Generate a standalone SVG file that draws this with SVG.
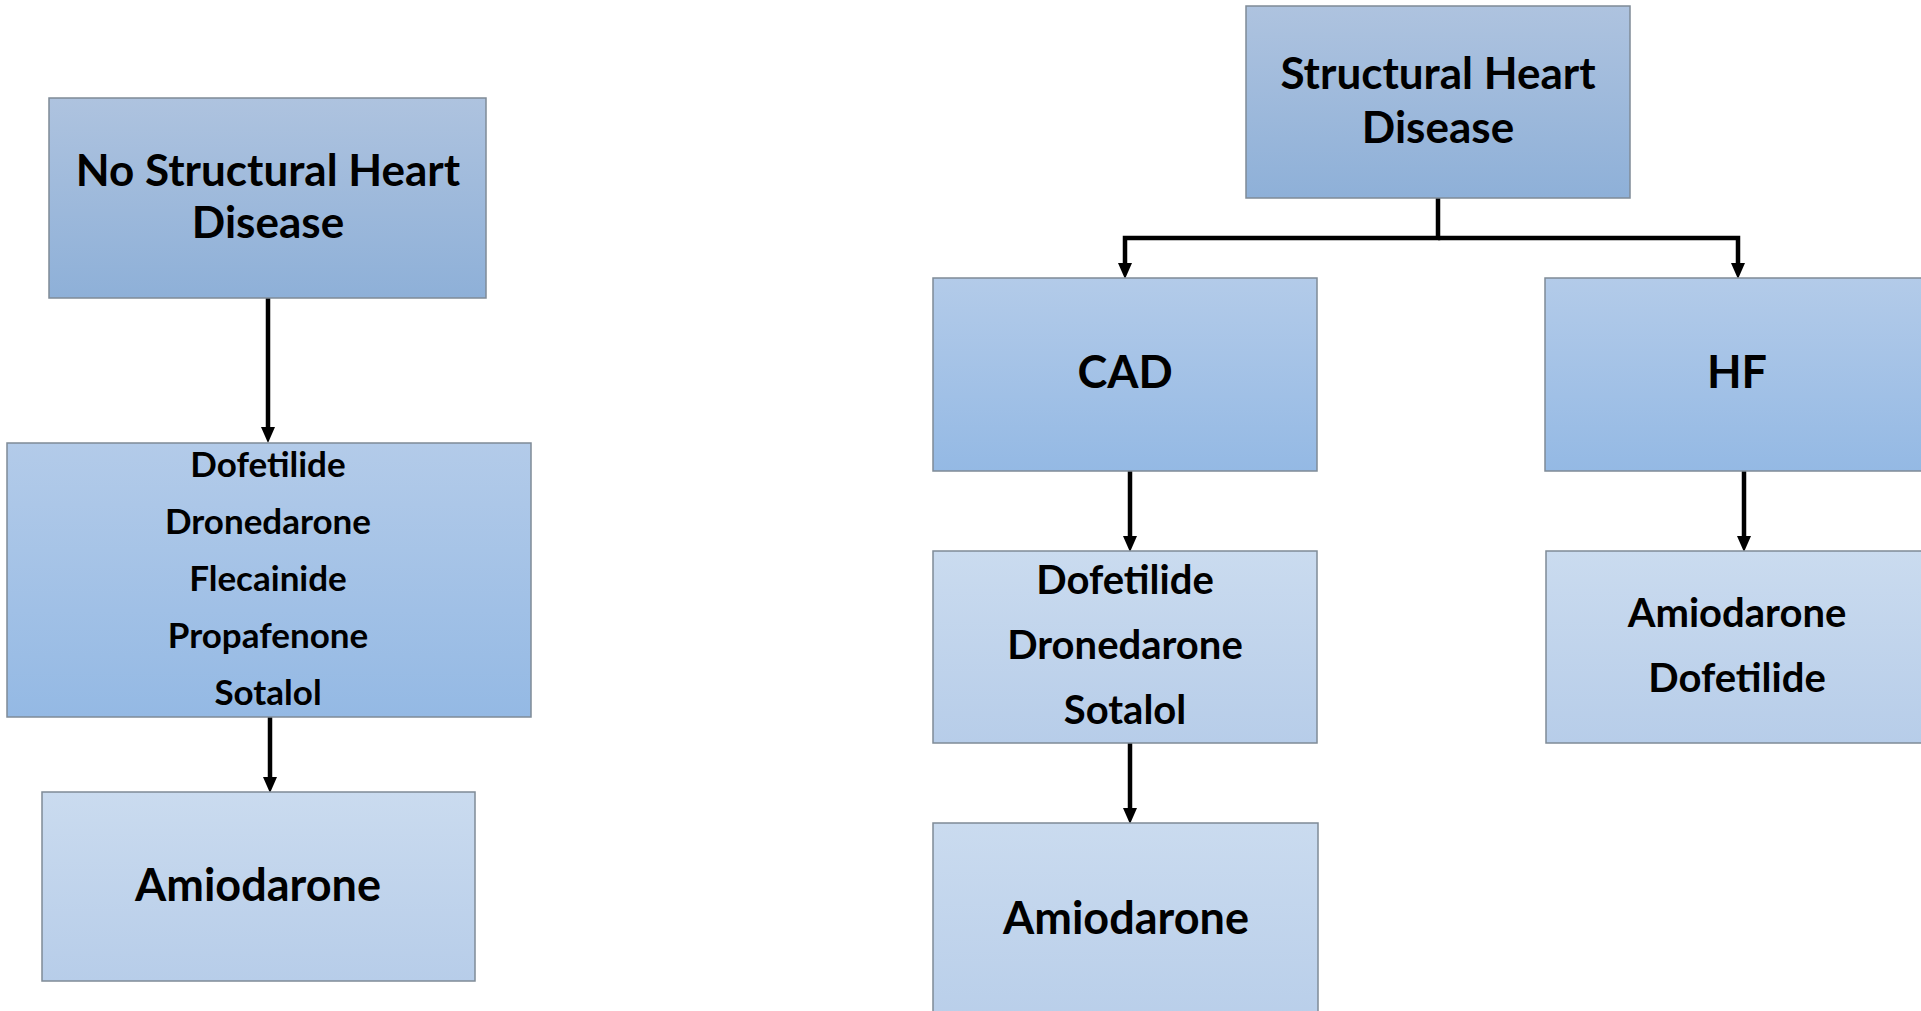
<svg xmlns="http://www.w3.org/2000/svg" width="1921" height="1011" viewBox="0 0 1921 1011">
<defs>
<linearGradient id="gDark" x1="0" y1="0" x2="0" y2="1"><stop offset="0" stop-color="#aec3df"/><stop offset="1" stop-color="#8eb0d8"/></linearGradient>
<linearGradient id="gMid" x1="0" y1="0" x2="0" y2="1"><stop offset="0" stop-color="#b3cbe9"/><stop offset="1" stop-color="#94b9e4"/></linearGradient>
<linearGradient id="gLight" x1="0" y1="0" x2="0" y2="1"><stop offset="0" stop-color="#cadbef"/><stop offset="1" stop-color="#b7cde9"/></linearGradient>
<style>
.box{stroke:#7f8b97;stroke-width:1.5}
.t{font-family:Lato,"Liberation Sans",sans-serif;font-weight:700;fill:#000;text-anchor:middle}
.c{fill:none;stroke:#000;stroke-width:4.5}
</style>
</defs>
<rect width="1921" height="1011" fill="#fff"/>
<g id="connectors">
<line class="c" x1="268" y1="298" x2="268" y2="428"/>
<line class="c" x1="270" y1="717" x2="270" y2="778"/>
<polyline class="c" points="1438,198 1438,238 1125,238 1125,264"/>
<polyline class="c" points="1438,238 1738,238 1738,264"/>
<line class="c" x1="1130" y1="471" x2="1130" y2="537"/>
<line class="c" x1="1744" y1="471" x2="1744" y2="537"/>
<line class="c" x1="1130" y1="743" x2="1130" y2="809"/>
<path d="M261,427 L275,427 L268,443 Z"/>
<path d="M263,777 L277,777 L270,793 Z"/>
<path d="M1118,263 L1132,263 L1125,279 Z"/>
<path d="M1731,263 L1745,263 L1738,279 Z"/>
<path d="M1123,536 L1137,536 L1130,552 Z"/>
<path d="M1737,536 L1751,536 L1744,552 Z"/>
<path d="M1123,808 L1137,808 L1130,824 Z"/>
</g>
<g id="no-shd">
<rect class="box" x="49" y="98" width="437" height="200" fill="url(#gDark)"/>
<text class="t" x="268" y="186" font-size="44">No Structural Heart</text>
<text class="t" x="268" y="238" font-size="44">Disease</text>
</g>
<g id="no-shd-drugs">
<rect class="box" x="7" y="443" width="524" height="274" fill="url(#gMid)"/>
<text class="t" x="268" y="477" font-size="35">Dofetilide</text>
<text class="t" x="268" y="534" font-size="35">Dronedarone</text>
<text class="t" x="268" y="591" font-size="35">Flecainide</text>
<text class="t" x="268" y="648" font-size="35">Propafenone</text>
<text class="t" x="268" y="705" font-size="35">Sotalol</text>
</g>
<g id="no-shd-amio">
<rect class="box" x="42" y="792" width="433" height="189" fill="url(#gLight)"/>
<text class="t" x="258" y="901" font-size="45">Amiodarone</text>
</g>
<g id="shd">
<rect class="box" x="1246" y="6" width="384" height="192" fill="url(#gDark)"/>
<text class="t" x="1438" y="89" font-size="44">Structural Heart</text>
<text class="t" x="1438" y="143" font-size="44">Disease</text>
</g>
<g id="cad">
<rect class="box" x="933" y="278" width="384" height="193" fill="url(#gMid)"/>
<text class="t" x="1125" y="388" font-size="45">CAD</text>
</g>
<g id="hf">
<rect class="box" x="1545" y="278" width="400" height="193" fill="url(#gMid)"/>
<text class="t" x="1737" y="388" font-size="45">HF</text>
</g>
<g id="cad-drugs">
<rect class="box" x="933" y="551" width="384" height="192" fill="url(#gLight)"/>
<text class="t" x="1125" y="594" font-size="40">Dofetilide</text>
<text class="t" x="1125" y="659" font-size="40">Dronedarone</text>
<text class="t" x="1125" y="724" font-size="40">Sotalol</text>
</g>
<g id="hf-drugs">
<rect class="box" x="1546" y="551" width="400" height="192" fill="url(#gLight)"/>
<text class="t" x="1737" y="627" font-size="40">Amiodarone</text>
<text class="t" x="1737" y="692" font-size="40">Dofetilide</text>
</g>
<g id="cad-amio">
<rect class="box" x="933" y="823" width="385" height="220" fill="url(#gLight)"/>
<text class="t" x="1126" y="934" font-size="45">Amiodarone</text>
</g>
</svg>
